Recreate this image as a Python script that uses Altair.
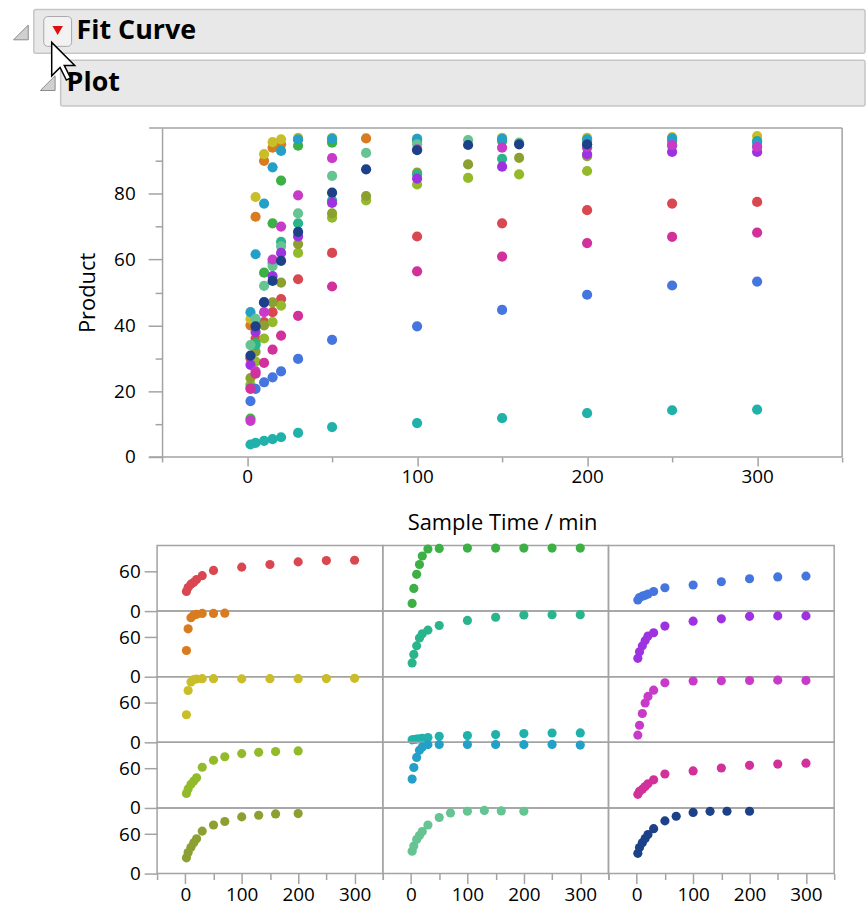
import altair as alt
import pandas as pd

# ---------------- data ----------------
series = [str(i) for i in range(1, 16)]
colors = ["#d94850", "#d97b1f", "#c9be2a", "#93ba2a", "#8ca032",
          "#3cb044", "#29b48c", "#20b2aa", "#24a0c8", "#66c392",
          "#4575de", "#9e32e0", "#c73bc8", "#d2309a", "#1c4189"]

T300 = [2, 5, 10, 15, 20, 30, 50, 100, 150, 200, 250, 300]
T200 = [2, 5, 10, 15, 20, 30, 50, 70, 100, 130, 160, 200]
T70 = [2, 5, 10, 15, 20, 30, 50, 70]

red = [30, 36, 41, 44, 48, 54, 62, 67, 71, 75, 77, 77.5]
orange = [40, 73, 90, 94, 95, 96.5, 96.5, 96.8]
yellow = [42, 79, 92, 95.7, 96.5, 97, 97, 96.7, 97, 97, 97.2, 97.5]
yellowgreen = [22, 29, 36, 41, 46, 62, 72.7, 78, 82.8, 84.8, 85.9, 86.9]
olive = [24, 32, 40, 47, 53, 64.7, 74, 79.3, 86.4, 88.9, 90.9, 91.4]
green = [11.7, 34.6, 56, 71, 84, 94.6, 95.5, 96, 96, 96, 96, 96]
tealgreen = [21, 34, 47, 59, 65.4, 71, 78, 85.8, 90.6, 94, 94.6, 94.6]
teal = [3.8, 4.3, 4.9, 5.4, 6.0, 7.3, 9.1, 10.3, 11.8, 13.3, 14.2, 14.4]
cyan = [44, 61.6, 77, 88, 93, 96.5, 96.7, 96.7, 96.7, 96.5, 96.8, 95.8]
mint = [34, 42, 52, 58, 64, 74, 85.4, 92.4, 95, 96.3, 95.5, 95]
blue = [17, 20.7, 22.7, 24.2, 26, 29.8, 35.6, 39.7, 44.7, 49.3, 52.1, 53.3]
purple = [28, 38, 47, 55, 62, 67, 77.2, 84.6, 88.2, 92, 92.7, 92.7]
magenta = [11, 26, 44, 60, 70, 79.5, 90.8, 93.5, 94, 94.2, 94.8, 94.2]
pink = [20.7, 25.3, 28.6, 32.6, 36.9, 42.9, 51.8, 56.4, 60.9, 65, 66.9, 68.2]
navy = [30.8, 39.7, 47, 53.5, 59.6, 68.4, 80.3, 87.4, 93.2, 94.8, 95, 95]

series_values = [red, orange, yellow, yellowgreen, olive,
                 green, tealgreen, teal, cyan, mint,
                 blue, purple, magenta, pink, navy]
series_times = [T300, T70, T300, T200, T200,
                T300, T300, T300, T300, T200,
                T300, T300, T300, T300, T200]

x_ticks = [-50, 0, 50, 100, 150, 200, 250, 300, 350]
y_ticks_main = [0, 10, 20, 30, 40, 50, 60, 70, 80, 90]
y_ticks_small = [0, 60]

rows = []
for s, ts, vs in zip(series, series_times, series_values):
    for t, v in zip(ts, vs):
        rows.append({"series": s, "time": t, "product": v})
df = pd.DataFrame(rows)
one = pd.DataFrame({"k": [0]})

FONT = "Open Sans"
GRAY = "#a3a3a3"
color_scale = alt.Scale(domain=series, range=colors)

# ---------------- header ----------------
HX = 158  # page x of the shared plot origin


def px(v):
    return alt.value(v - HX)


hdr = alt.Chart(one)
bg = hdr.mark_rect(color="white").encode(x=px(0), x2=px(866), y=alt.value(0), y2=alt.value(116))
box1 = hdr.mark_rect(fill="#e8e8e8", stroke="#c6c6c6", strokeWidth=1.5, cornerRadius=2).encode(
    x=px(34), x2=px(870), y=alt.value(7), y2=alt.value(51))
box2 = hdr.mark_rect(fill="#e8e8e8", stroke="#c6c6c6", strokeWidth=1.5, cornerRadius=2).encode(
    x=px(61), x2=px(870), y=alt.value(58), y2=alt.value(104))
btn = hdr.mark_rect(fill="#f2f2f2", stroke="#a8a8a8", strokeWidth=1, cornerRadius=4).encode(
    x=px(44), x2=px(72), y=alt.value(14), y2=alt.value(44))
tri_red = hdr.mark_point(shape="triangle-down", filled=True, color="#e01010", size=110, opacity=1).encode(
    x=px(58), y=alt.value(28))
disc_shape = "M1,-1L1,1L-1,1Z"
disc1 = hdr.mark_point(shape=disc_shape, filled=True, fill="#d0d0d0", stroke="#8c8c8c", strokeWidth=1,
                       size=220, opacity=1).encode(x=px(21), y=alt.value(30))
disc2 = hdr.mark_point(shape=disc_shape, filled=True, fill="#d0d0d0", stroke="#8c8c8c", strokeWidth=1,
                       size=220, opacity=1).encode(x=px(48), y=alt.value(81))
t1 = hdr.mark_text(align="left", baseline="middle", font=FONT, fontSize=27, fontWeight="bold", color="black").encode(
    x=px(77), y=alt.value(29), text=alt.value("Fit Curve"))
t2 = hdr.mark_text(align="left", baseline="middle", font=FONT, fontSize=27, fontWeight="bold", color="black").encode(
    x=px(67), y=alt.value(81), text=alt.value("Plot"))
cursor_shape = ("M-1,-1L-1,0.684L-0.579,0.263L-0.263,0.895L-0.053,0.789L-0.368,0.158L0.158,0.158Z")
cursor = hdr.mark_point(shape=cursor_shape, filled=True, fill="white", stroke="black", strokeWidth=1.5,
                        size=1600, opacity=1).encode(x=px(72), y=alt.value(60))

header = alt.layer(bg, box1, box2, btn, tri_red, disc1, disc2, t1, t2, cursor).properties(
    width=689, height=116, view=alt.ViewBackground(strokeOpacity=0))

# ---------------- main scatter ----------------
x_axis_main = alt.Axis(
    values=x_ticks, labelExpr="datum.value % 100 === 0 && datum.value >= 0 ? datum.label : ''",
    tickSize={"condition": {"test": "datum.value % 100 !== 0", "value": 5}, "value": 9},
    domain=False, labelFlush=False, labelOverlap=False, labelPadding=2, titlePadding=26,
    title="Sample Time / min")
y_axis_main = alt.Axis(
    values=y_ticks_main, labelExpr="datum.value % 20 === 0 ? datum.label : ''",
    tickSize={"condition": {"test": "datum.value % 20 !== 0", "value": 7}, "value": 14},
    offset=-5, labelPadding=13, titlePadding=14, labelOverlap=False, title="Product")

pts = alt.Chart(df).mark_circle(size=105, opacity=1).encode(
    x=alt.X("time:Q", scale=alt.Scale(domain=[-50, 350], range=[5, 689], nice=False, zero=False), axis=x_axis_main),
    y=alt.Y("product:Q", scale=alt.Scale(domain=[0, 100], nice=False, zero=False), axis=y_axis_main),
    color=alt.Color("series:N", scale=color_scale, legend=None),
)
fr = alt.Chart(one)
f_top = fr.mark_rule(color=GRAY, strokeWidth=1.5).encode(x=alt.value(-8), x2=alt.value(689), y=alt.value(0))
f_bot = fr.mark_rule(color=GRAY, strokeWidth=1.5).encode(x=alt.value(-8), x2=alt.value(689), y=alt.value(331))
f_right = fr.mark_rule(color=GRAY, strokeWidth=1.5).encode(x=alt.value(689), y=alt.value(0), y2=alt.value(331))
main = alt.layer(f_top, f_bot, f_right, pts).properties(
    width=689, height=331, view=alt.ViewBackground(strokeOpacity=0))

# ---------------- small multiples ----------------
x_axis_small = alt.Axis(
    values=x_ticks, labelExpr="datum.value % 100 === 0 && datum.value >= 0 ? datum.label : ''",
    tickSize={"condition": {"test": "datum.value % 100 !== 0", "value": 6}, "value": 10},
    domain=False, labelFlush=False, labelOverlap=False, labelPadding=2, title=None)
y_axis_small = alt.Axis(values=y_ticks_small, tickSize=13, domain=False, labelPadding=4,
                        labelOverlap=False, title=None)

cells = []
for r in range(5):
    for c in range(3):
        s = series[c * 5 + r]
        cell = alt.Chart(df).transform_filter(alt.datum.series == s).mark_circle(size=85, opacity=1).encode(
            x=alt.X("time:Q", scale=alt.Scale(domain=[-50, 350], nice=False, zero=False),
                    axis=x_axis_small if r == 4 else None),
            y=alt.Y("product:Q", scale=alt.Scale(domain=[0, 100], nice=False, zero=False),
                    axis=y_axis_small if c == 0 else None),
            color=alt.Color("series:N", scale=color_scale, legend=None),
        ).properties(width=227, height=66)
        cells.append(cell)

grid = alt.concat(*cells, columns=3, spacing=0, bounds="flush")

chart = alt.vconcat(header, main, grid, spacing=9).properties(
    padding=0, background="white"
).configure_view(stroke=GRAY, strokeWidth=1.5).configure_axis(
    labelFont=FONT, labelFontSize=19, labelColor="black",
    titleFont=FONT, titleFontSize=22, titleFontWeight="normal", titleColor="black",
    tickColor=GRAY, tickWidth=1.5, domainColor=GRAY, domainWidth=1.5, grid=False
)

chart.save("out.html", embed_options={"renderer": "svg", "actions": False})
